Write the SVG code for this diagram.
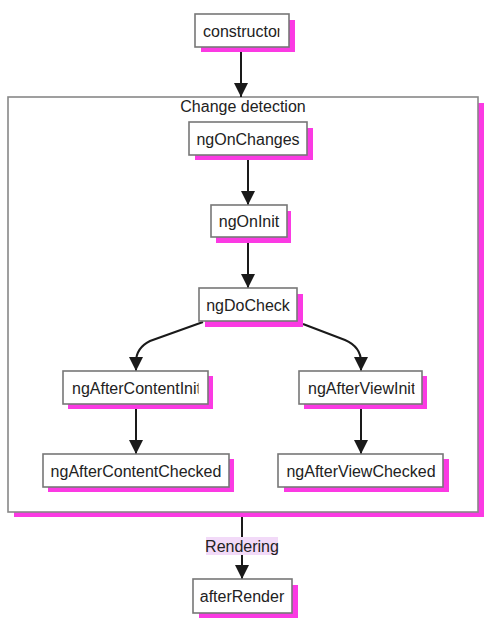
<svg xmlns="http://www.w3.org/2000/svg" width="498" height="627" viewBox="0 0 498 627">
<style>
.shadow{fill:#fb3ae3;}
.box{fill:#fff;stroke:#777;stroke-width:1.6;}
.t{font-family:"Liberation Sans",Arial,sans-serif;font-size:16px;fill:#222;}
.c{text-anchor:middle;}
.edge{fill:none;stroke:#1a1a1a;stroke-width:2;}
</style>
<defs>
<marker id="ah" viewBox="0 0 12 12" refX="12" refY="6" markerWidth="14" markerHeight="14" markerUnits="userSpaceOnUse" orient="auto">
<path d="M0,0 L12,6 L0,12 z" fill="#1a1a1a"/>
</marker>
<clipPath id="clip1" clipPathUnits="userSpaceOnUse"><rect x="195" y="14" width="84.5" height="33"/></clipPath>
<clipPath id="clip2" clipPathUnits="userSpaceOnUse"><rect x="63" y="371" width="135.5" height="33"/></clipPath>
<clipPath id="clip3" clipPathUnits="userSpaceOnUse"><rect x="299" y="371" width="115.5" height="33"/></clipPath>
</defs>

<g id="cluster">
<rect class="shadow" x="14" y="103" width="470" height="414"/>
<rect x="8" y="97" width="470" height="415" fill="#fff" stroke="#888" stroke-width="1.6"/>
<text class="t c" x="243" y="112">Change detection</text>
</g>

<g id="edges">
<path class="edge" d="M241,47 L241,97" marker-end="url(#ah)"/>
<path class="edge" d="M248,155 L248,205" marker-end="url(#ah)"/>
<path class="edge" d="M248,237 L248,288" marker-end="url(#ah)"/>
<path class="edge" d="M203,322 L150,341 Q136,348 136,362 L136,371" marker-end="url(#ah)"/>
<path class="edge" d="M303,324 L345,340 Q361,347 361,362 L361,371" marker-end="url(#ah)"/>
<path class="edge" d="M136,404 L136,454" marker-end="url(#ah)"/>
<path class="edge" d="M361,404 L361,454" marker-end="url(#ah)"/>
<path class="edge" d="M242,517 L242,579" marker-end="url(#ah)"/>
</g>

<g id="edge-label-rendering">
<rect x="206" y="537" width="72" height="18" fill="#f2daf8"/>
<text class="t c" x="242" y="552">Rendering</text>
</g>

<g id="constructor">
<rect class="shadow" x="201" y="20" width="94" height="32"/>
<rect class="box" x="195" y="14" width="94" height="33"/>
<g clip-path="url(#clip1)"><text class="t" x="203" y="37">constructor</text></g>
</g>

<g id="ngOnChanges">
<rect class="shadow" x="195" y="128" width="118" height="32"/>
<rect class="box" x="189" y="122" width="118" height="33"/>
<text class="t c" x="248" y="145">ngOnChanges</text>
</g>

<g id="ngOnInit">
<rect class="shadow" x="216" y="211" width="75" height="32"/>
<rect class="box" x="211" y="205" width="76" height="32"/>
<text class="t c" x="249" y="227">ngOnInit</text>
</g>

<g id="ngDoCheck">
<rect class="shadow" x="205" y="294" width="98" height="33"/>
<rect class="box" x="199" y="288" width="98" height="33"/>
<text class="t c" x="248" y="311">ngDoCheck</text>
</g>

<g id="ngAfterContentInit">
<rect class="shadow" x="68" y="376" width="145" height="33"/>
<rect class="box" x="63" y="371" width="145" height="33"/>
<g clip-path="url(#clip2)"><text class="t" x="72" y="394">ngAfterContentInit</text></g>
</g>

<g id="ngAfterContentChecked">
<rect class="shadow" x="48" y="459" width="186" height="33"/>
<rect class="box" x="43" y="454" width="186" height="33"/>
<text class="t c" x="136" y="477">ngAfterContentChecked</text>
</g>

<g id="ngAfterViewInit">
<rect class="shadow" x="304" y="376" width="123" height="33"/>
<rect class="box" x="299" y="371" width="123" height="33"/>
<g clip-path="url(#clip3)"><text class="t" x="308" y="394">ngAfterViewInit</text></g>
</g>

<g id="ngAfterViewChecked">
<rect class="shadow" x="284" y="459" width="165" height="33"/>
<rect class="box" x="278" y="454" width="165" height="33"/>
<text class="t c" x="361" y="477">ngAfterViewChecked</text>
</g>

<g id="afterRender">
<rect class="shadow" x="199" y="585" width="99" height="33"/>
<rect class="box" x="193" y="579" width="99" height="34"/>
<text class="t c" x="242" y="602">afterRender</text>
</g>
</svg>
